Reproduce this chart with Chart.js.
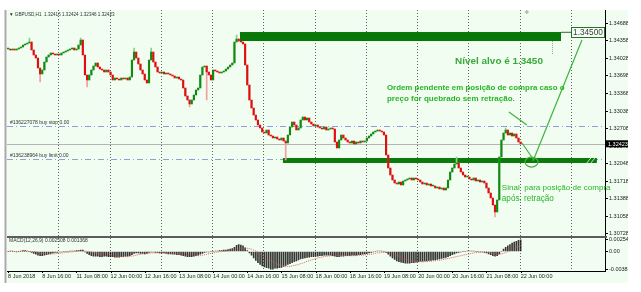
<!DOCTYPE html>
<html>
<head>
<meta charset="utf-8">
<script src="https://cdn.jsdelivr.net/npm/chart.js@4.4.1/dist/chart.umd.min.js"></script>
<style>
  html, body { margin: 0; padding: 0; background: #fff; }
  canvas { display: block; }
</style>
</head>
<body>
<canvas id="chart" width="641" height="292"></canvas>
<script>
// GBPUSD H1, one close per bar, bar 0 = 8 Jun 2018 00:00, bar 240 = 22 Jun 00:00
const closes = [
  1.34205, 1.34186, 1.34205, 1.34186, 1.34205, 1.34224, 1.34242, 1.3428, 1.34299, 1.34318,
  1.34336, 1.34186, 1.34092, 1.34036, 1.33848, 1.33735, 1.3381, 1.3396, 1.34054, 1.34092,
  1.3413, 1.34111, 1.34092, 1.34111, 1.34092, 1.3413, 1.34148, 1.34167, 1.34186, 1.34205,
  1.34224, 1.34186, 1.34205, 1.3428, 1.34374, 1.34092, 1.33716, 1.33622, 1.33716, 1.3381,
  1.33885, 1.33942, 1.33866, 1.33829, 1.3381, 1.33772, 1.3381, 1.33772, 1.33716, 1.33622,
  1.3366, 1.33641, 1.33622, 1.3366, 1.33641, 1.3366, 1.33622, 1.33678, 1.33998, 1.34148,
  1.34036, 1.33923, 1.3381, 1.33735, 1.33622, 1.33566, 1.33998, 1.34148, 1.3396, 1.33866,
  1.33772, 1.33754, 1.33772, 1.33735, 1.33754, 1.33735, 1.33716, 1.33697, 1.3366, 1.33678,
  1.33641, 1.33622, 1.33472, 1.33321, 1.33246, 1.33171, 1.33246, 1.3334, 1.33434, 1.33472,
  1.33716, 1.33866, 1.33885, 1.33772, 1.33716, 1.33622, 1.3381, 1.33791, 1.33772, 1.33754,
  1.33772, 1.33791, 1.33829, 1.33866, 1.33904, 1.33942, 1.34336, 1.34393, 1.34355, 1.34336,
  1.34299, 1.33904, 1.33528, 1.33246, 1.33096, 1.32964, 1.3287, 1.32776, 1.3272, 1.32644,
  1.32626, 1.32682, 1.32588, 1.32569, 1.32532, 1.3255, 1.32513, 1.32494, 1.32532, 1.32475,
  1.32438, 1.32588, 1.32738, 1.32832, 1.32776, 1.32682, 1.3272, 1.3287, 1.32926, 1.3287,
  1.32908, 1.32832, 1.32795, 1.32757, 1.32776, 1.32738, 1.3272, 1.32701, 1.32738, 1.32682,
  1.32701, 1.3272, 1.32701, 1.32456, 1.32344, 1.32494, 1.32588, 1.32532, 1.32494, 1.32456,
  1.32438, 1.32475, 1.32419, 1.32456, 1.32438, 1.32475, 1.32456, 1.32475, 1.32532, 1.32569,
  1.32607, 1.32644, 1.32663, 1.32682, 1.32663, 1.32644, 1.32588, 1.32212, 1.31968, 1.31836,
  1.31742, 1.31686, 1.31667, 1.31704, 1.31648, 1.31723, 1.31742, 1.31761, 1.3178, 1.31742,
  1.3178, 1.31761, 1.31742, 1.31704, 1.31667, 1.31686, 1.31648, 1.31667, 1.31629, 1.31629,
  1.31592, 1.3161, 1.31573, 1.31592, 1.31554, 1.31592, 1.31742, 1.31892, 1.31968, 1.32043,
  1.32062, 1.31968, 1.31892, 1.31836, 1.31798, 1.31798, 1.31761, 1.31742, 1.3178, 1.31723,
  1.31742, 1.31704, 1.31723, 1.31686, 1.31592, 1.31498, 1.31404, 1.31272, 1.3114, 1.31366,
  1.32174, 1.32494, 1.32626, 1.32682, 1.32588, 1.32626, 1.32569, 1.32607, 1.32532, 1.32456,
  1.32423
];

// wicks that stick out of the body: [bar, price]
const spikeHighs = [[10, 1.34412], [34, 1.34412], [59, 1.34224], [67, 1.34224], [107, 1.34468], [210, 1.32174], [233, 1.3272]];
const spikeLows = [[15, 1.33584], [37, 1.3349], [85, 1.33114], [93, 1.33246], [130, 1.32118], [228, 1.31046]];

// MACD(12,26,9) main + signal, in units of 0.0001
const macdMainE4 = [
  0, 1, 1, 0, -1, 0, 1, 2, 2, 1, 0, -2, -4,
  -6, -8, -9, -9, -8, -7, -5,
  -4, -3, -2, -2, -1, -1, 0, 0, 0, 1, 1, 1, 2, 2, 3, 3,
  -1, -4, -7, -9, -10, -10, -10, -11, -11,
  -10, -10, -11, -11, -11, -12, -12, -12, -11, -11, -10, -10, -9, -7,
  -4, -3, -3, -4, -4, -5, -4, -2, -1, -1, -2, -2, -3, -3, -3, -4,
  -5, -5, -6, -6, -7, -7, -8, -9, -10, -11, -11, -11, -10, -9, -8, -6,
  -4, -2, -1, -1, 0, 0,
  1, 1, 2, 2, 3, 3, 4, 5, 6, 9, 13, 15, 14, 12, 8,
  2, -3, -8,
  -14, -19, -24, -28, -31, -33, -35, -36, -38, -38, -36, -36, -35, -34,
  -32, -30, -28, -26, -24, -22, -20, -18, -16, -15, -14, -13, -12, -11, -11, -10,
  -10, -9, -9, -8, -8, -8, -8, -9, -10, -11, -11, -10, -10, -9, -9, -9, -8, -8, -8, -7, -7, -6, -5, -4, -3,
  -2, -1, 0, 1, 1, 1, 0, -2,
  -6, -10, -14, -17, -20, -22, -23, -24, -25, -25, -25, -24, -24, -23,
  -22, -21, -21, -20, -20, -19, -19, -18, -18, -17, -16, -15, -14, -13, -11, -9, -7, -5, -3, -2,
  -1, 0, 0, 1, 1, 1, 1, 0, 0, -1, -1, -2, -3,
  -5, -7, -9, -10, -9, -5,
  0, 5, 9, 12, 15, 18, 20, 22, 24, 25
];
const macdSignalE4 = [
  0, 0, 0, 0, 0, 0, 0, 0, 0, 0, 0, 0, 0,
  -1, -2, -3, -4, -5, -5, -6, -6,
  -5, -5, -4, -4, -3, -3, -2, -2, -1, -1, 0, 0, 1, 1, 1,
  1, 0, 0, -1, -2, -3, -4, -5, -6,
  -7, -8, -8, -9, -9, -10, -10, -10, -11, -11, -11, -11, -10, -10,
  -9, -8, -7, -6, -5, -5, -4, -4, -3, -3, -3, -3, -3, -3, -3, -3,
  -3, -4, -4, -4, -5, -5, -6, -6, -7, -7, -8, -8, -9, -9, -9, -9,
  -8, -7, -6, -5, -4, -3,
  -2, -1, -1, 0, 0, 1, 1, 2, 2, 3, 4, 5, 6, 7, 7,
  7, 6, 5,
  3, 1, -2, -5, -8, -11, -14, -17, -20, -23, -25, -27, -29, -30,
  -31, -32, -32, -32, -31, -30, -29, -28, -26, -25, -23, -21, -20, -18, -17, -15,
  -14, -13, -12, -11, -10, -10, -9, -9, -9, -9, -9, -9, -9, -9, -9, -9, -9, -9, -9, -8, -8, -8, -7, -7, -6,
  -6, -5, -4, -3, -3, -2, -2, -2,
  -2, -3, -4, -6, -8, -10, -12, -14, -16, -18, -19, -20, -21, -22,
  -22, -22, -22, -22, -21, -21, -21, -20, -20, -19, -19, -18, -17, -16, -15, -14, -13, -12, -11, -10,
  -9, -8, -7, -6, -5, -4, -3, -2, -2, -1, -1, -1, -1,
  -2, -3, -4, -5, -6, -6,
  -5, -4, -2, 0, 2, 4, 6, 9, 11, 13
];

const timeTickBars = [0, 16, 32, 48, 64, 80, 96, 112, 128, 144, 160, 176, 192, 208, 224, 240];
const timeTickLabels = ['8 Jun 2018', '8 Jun 16:00', '11 Jun 08:00', '12 Jun 00:00', '12 Jun 16:00', '13 Jun 08:00',
  '14 Jun 00:00', '14 Jun 16:00', '15 Jun 08:00', '18 Jun 00:00', '18 Jun 16:00', '19 Jun 08:00',
  '20 Jun 00:00', '20 Jun 16:00', '21 Jun 08:00', '22 Jun 00:00'];
const dayStartBars = [24, 48, 72, 96, 120, 144, 168, 192, 216, 240, 264];
const priceTicks = [1.34688, 1.34358, 1.34028, 1.33698, 1.33368, 1.33038, 1.32708, 1.32378, 1.32048, 1.31718, 1.31388, 1.31058, 1.30728];
const macdTicks = [0.002541, 0, -0.003804];

const slotCount = 280;  // bars that fit the window, incl. empty space on the right
const lastBar = { open: 1.32416, high: 1.32424, low: 1.32346, close: 1.32423 };
const buyStop = { price: 1.32757, text: '#136227078 buy stop 0.00' };
const buyLimit = { price: 1.32137, text: '#136238964 buy limit 0.00' };
const targetLevel = 1.345;
const targetBand = { from: 108.6, to: 258.9, top: 1.34524, bottom: 1.34355 };
const supportBand = { from: 128.7, to: 275.7, top: 1.32156, bottom: 1.32062 };

const opens = closes.map((c, i) => i ? closes[i - 1] : c);
const highs = closes.map((c, i) => Math.max(c, opens[i]));
const lows = closes.map((c, i) => Math.min(c, opens[i]));
spikeHighs.forEach(([i, p]) => { highs[i] = p; });
spikeLows.forEach(([i, p]) => { lows[i] = p; });
const isUp = closes.map((c, i) => c >= opens[i]);

const FAMILY = '"Liberation Sans", Arial, sans-serif';

function fitText(ctx, text, x, y, width, weight, color) {
  ctx.font = `${weight} 20px ${FAMILY}`;
  const size = 20 * width / ctx.measureText(text).width;
  ctx.font = `${weight} ${size}px ${FAMILY}`;
  ctx.fillStyle = color;
  ctx.textAlign = 'left';
  ctx.textBaseline = 'middle';
  ctx.fillText(text, x, y);
}

const mt4Overlay = {
  id: 'mt4Overlay',
  beforeDraw(chart) {
    const { ctx, chartArea: a, scales: { x, y } } = chart;
    ctx.save();
    ctx.fillStyle = '#fff';
    ctx.fillRect(0, 0, chart.width, chart.height);
    ctx.fillStyle = '#f0fdf0';
    ctx.fillRect(a.left, a.top, y.right - a.left, x.bottom - a.top);
    ctx.fillStyle = '#a9a9a9';
    ctx.fillRect(a.left - 2.5, a.top, 2, x.bottom - a.top);
    ctx.restore();
  },
  beforeDatasetsDraw(chart) {
    const { ctx, chartArea: a, scales: { x, y } } = chart;
    ctx.save();
    // day separators
    ctx.strokeStyle = 'rgba(0,0,0,0.6)';
    ctx.lineWidth = 1;
    ctx.setLineDash([1, 2]);
    dayStartBars.forEach(b => {
      const px = Math.round(x.getPixelForValue(b - 0.5)) + 0.5;
      ctx.beginPath(); ctx.moveTo(px, a.top); ctx.lineTo(px, a.bottom); ctx.stroke();
    });
    // pending orders
    ctx.strokeStyle = '#8d9fd6';
    ctx.setLineDash([6, 3, 1, 3]);
    [buyStop, buyLimit].forEach(o => {
      const py = Math.round(y.getPixelForValue(o.price)) + 0.5;
      ctx.beginPath(); ctx.moveTo(a.left, py); ctx.lineTo(a.right, py); ctx.stroke();
    });
    ctx.setLineDash([]);
    ctx.fillStyle = '#333';
    ctx.font = `5px ${FAMILY}`;
    ctx.textBaseline = 'alphabetic';
    [buyStop, buyLimit].forEach(o => {
      ctx.fillText(o.text, a.left + 3, y.getPixelForValue(o.price) - 2);
    });
    // bid line
    const bidY = Math.round(y.getPixelForValue(lastBar.close)) + 0.5;
    ctx.strokeStyle = '#b4b4b4';
    ctx.beginPath(); ctx.moveTo(a.left, bidY); ctx.lineTo(a.right, bidY); ctx.stroke();
    // support rectangle
    ctx.fillStyle = '#0b7a0b';
    const sx1 = x.getPixelForValue(supportBand.from), sx2 = x.getPixelForValue(supportBand.to);
    const sy1 = y.getPixelForValue(supportBand.top), sy2 = y.getPixelForValue(supportBand.bottom);
    ctx.fillRect(sx1, sy1, sx2 - sx1, sy2 - sy1);
    ctx.strokeStyle = '#bfe8bf';
    ctx.beginPath();
    ctx.moveTo(sx2 - 10, sy2); ctx.lineTo(sx2 - 6, sy1);
    ctx.moveTo(sx2 - 6, sy2); ctx.lineTo(sx2 - 2, sy1);
    ctx.stroke();
    ctx.restore();
  },
  afterDatasetsDraw(chart) {
    const { ctx, chartArea: a, scales: { x, y, m } } = chart;
    ctx.save();
    // target rectangle
    const tx1 = x.getPixelForValue(targetBand.from), tx2 = x.getPixelForValue(targetBand.to);
    const ty1 = y.getPixelForValue(targetBand.top), ty2 = y.getPixelForValue(targetBand.bottom);
    ctx.fillStyle = '#077807';
    ctx.fillRect(tx1, ty1, tx2 - tx1, ty2 - ty1);
    // price label of the target
    const ly = y.getPixelForValue(targetLevel) - 1;
    const bx1 = x.getPixelForValue(263.6), bx2 = x.getPixelForValue(279);
    ctx.strokeStyle = '#2c6e2c';
    ctx.lineWidth = 1;
    ctx.beginPath(); ctx.moveTo(tx2, ly); ctx.lineTo(bx1, ly); ctx.stroke();
    ctx.fillStyle = '#f4fff4';
    ctx.fillRect(bx1, ly - 5, bx2 - bx1, 10);
    ctx.strokeRect(Math.round(bx1) + 0.5, Math.round(ly - 5) + 0.5, Math.round(bx2 - bx1), 10);
    fitText(ctx, '1.34500', bx1 + 2, ly + 0.5, bx2 - bx1 - 3, 'normal', '#3c3c3c');
    // small object marks
    ctx.strokeStyle = '#a0a0a0';
    ctx.setLineDash([1, 1]);
    const gx = Math.round(x.getPixelForValue(254.5)) + 0.5;
    ctx.beginPath(); ctx.moveTo(gx, y.getPixelForValue(1.34355)); ctx.lineTo(gx, y.getPixelForValue(1.34092)); ctx.stroke();
    ctx.setLineDash([]);
    const cx = x.getPixelForValue(242.9), cy = y.getPixelForValue(1.34900);
    ctx.beginPath(); ctx.moveTo(cx - 2, cy); ctx.lineTo(cx + 2, cy); ctx.moveTo(cx, cy - 2); ctx.lineTo(cx, cy + 2); ctx.stroke();
    // arrows and circle
    ctx.strokeStyle = '#3fb23f';
    ctx.lineWidth = 1.2;
    const seg = (b1, p1, b2, p2) => {
      ctx.beginPath();
      ctx.moveTo(x.getPixelForValue(b1), y.getPixelForValue(p1));
      ctx.lineTo(x.getPixelForValue(b2), y.getPixelForValue(p2));
      ctx.stroke();
    };
    seg(245.8, 1.32099, 268.7, 1.34374);
    seg(234.5, 1.33020, 242.9, 1.32776);
    seg(240.6, 1.32438, 246.2, 1.32118);
    ctx.beginPath();
    ctx.ellipse(x.getPixelForValue(245.1), y.getPixelForValue(1.3208), 6.5, 5, 0, 0, Math.PI * 2);
    ctx.stroke();
    // notes
    const tx = b => x.getPixelForValue(b);
    fitText(ctx, 'Nível alvo é 1.3450', tx(209.3), y.getPixelForValue(1.33979), 88, 'bold', '#3aa83a');
    fitText(ctx, 'Ordem pendente em posição de compra caso o', tx(177.4), y.getPixelForValue(1.33472), 178, 'bold', '#27b527');
    fitText(ctx, 'preço for quebrado sem retração.', tx(177.4), y.getPixelForValue(1.33265), 128, 'bold', '#27b527');
    fitText(ctx, 'Sinal  para posição de compra', tx(231.2), y.getPixelForValue(1.31592), 109, 'normal', '#27b527');
    fitText(ctx, 'após: retração', tx(231.2), y.getPixelForValue(1.31385), 52, 'normal', '#27b527');
    // panel separator
    ctx.fillStyle = '#5c5c5c';
    ctx.fillRect(a.left, y.bottom - 0.5, a.right - a.left + 2, 2);
    // headers
    fitText(ctx, '▼ GBPUSD,H1  ' + [lastBar.open, lastBar.high, lastBar.low, lastBar.close].map(v => v.toFixed(5)).join(' '),
      a.left + 2, a.top + 4.5, 106, 'normal', '#333');
    fitText(ctx, 'MACD(12,26,9) 0.002508 0.001368', a.left + 2, m.top + 4.5, 79, 'normal', '#333');
    ctx.restore();
  },
  afterDraw(chart) {
    const { ctx, chartArea: a, scales: { x, y } } = chart;
    ctx.save();
    // time labels, left edge on the bar like the terminal does
    ctx.fillStyle = '#222';
    ctx.font = `5.5px ${FAMILY}`;
    ctx.textBaseline = 'middle';
    ctx.textAlign = 'left';
    ctx.strokeStyle = '#000';
    ctx.lineWidth = 1;
    timeTickBars.forEach((b, k) => {
      const px = x.getPixelForValue(b);
      ctx.beginPath(); ctx.moveTo(Math.round(px) + 0.5, a.bottom); ctx.lineTo(Math.round(px) + 0.5, a.bottom + 2); ctx.stroke();
      ctx.fillText(timeTickLabels[k], px, a.bottom + 5.5);
    });
    // bid price on the axis
    const py = y.getPixelForValue(lastBar.close);
    ctx.fillStyle = '#000';
    ctx.fillRect(y.left + 1, py - 3.5, 22, 7);
    ctx.fillStyle = '#fff';
    ctx.fillText(lastBar.close.toFixed(5), y.left + 3, py + 0.5);
    ctx.restore();
  }
};

const tickFont = { size: 5.5, family: FAMILY };

new Chart(document.getElementById('chart'), {
  data: {
    labels: Array.from({ length: slotCount }, (_, i) => i),
    datasets: [
      {
        type: 'line', label: 'Signal', yAxisID: 'm', order: 0,
        data: macdSignalE4.map(v => v / 10000),
        borderColor: 'rgba(225,70,70,0.85)', borderWidth: 1, borderDash: [1, 1],
        pointRadius: 0, tension: 0
      },
      {
        type: 'bar', label: 'Body', yAxisID: 'y', order: 1, grouped: false,
        data: closes.map((c, i) => [opens[i], c]),
        backgroundColor: isUp.map(u => u ? '#128a12' : '#dc1010'),
        barThickness: 1.5, minBarLength: 1
      },
      {
        type: 'bar', label: 'Wick', yAxisID: 'y', order: 2, grouped: false,
        data: closes.map((c, i) => [lows[i], highs[i]]),
        backgroundColor: isUp.map(u => u ? '#86d486' : '#f0a0a0'),
        barThickness: 1
      },
      {
        type: 'bar', label: 'MACD', yAxisID: 'm', order: 3, grouped: false,
        data: macdMainE4.map(v => v / 10000),
        backgroundColor: 'rgba(0,0,0,0.78)',
        barThickness: 1
      }
    ]
  },
  options: {
    responsive: false,
    animation: false,
    devicePixelRatio: 1,
    layout: { padding: { left: 7, top: 10, right: 13, bottom: 9 } },
    plugins: { legend: { display: false }, tooltip: { enabled: false } },
    scales: {
      x: {
        type: 'category',
        grid: { display: false },
        border: { display: true, color: '#000' },
        ticks: { display: false },
        afterFit: s => { s.height = 12; }
      },
      y: {
        type: 'linear', position: 'right', stack: 'panes', stackWeight: 226.5,
        min: 1.3068, max: 1.34938,
        grid: { display: true, drawOnChartArea: false, tickLength: 3, color: '#000', tickColor: '#000' },
        border: { display: true, color: '#000' },
        ticks: { autoSkip: false, padding: 1, color: '#222', font: tickFont, callback: v => v.toFixed(5) },
        afterBuildTicks: s => { s.ticks = priceTicks.map(v => ({ value: v })); },
        afterFit: s => { s.width = 23; }
      },
      m: {
        type: 'linear', position: 'right', stack: 'panes', stackWeight: 34.5,
        min: -0.00419, max: 0.00322,
        grid: { display: true, drawOnChartArea: false, tickLength: 3, color: '#000', tickColor: '#000' },
        border: { display: true, color: '#000' },
        ticks: { autoSkip: false, padding: 1, color: '#222', font: tickFont, callback: v => v === 0 ? '0.00' : v.toFixed(6) },
        afterBuildTicks: s => { s.ticks = macdTicks.map(v => ({ value: v })); },
        afterFit: s => { s.width = 23; }
      }
    }
  },
  plugins: [mt4Overlay]
});
</script>
</body>
</html>
